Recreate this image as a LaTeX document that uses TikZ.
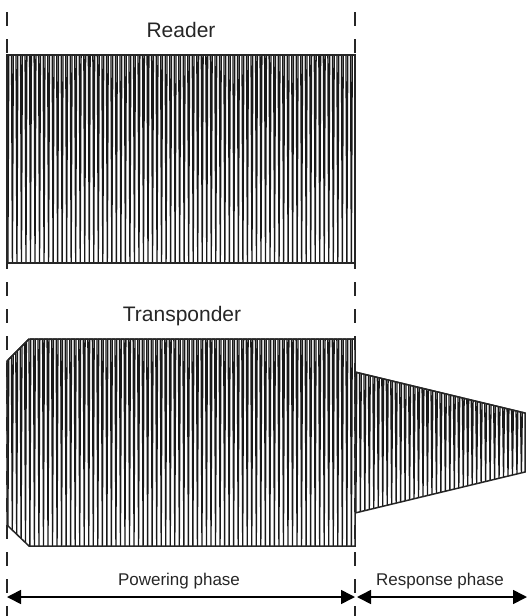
\documentclass[tikz,border=0pt]{standalone}
\usepackage{fontspec}
\setmainfont{Liberation Sans}
\usetikzlibrary{arrows.meta}

% carrier drawn as narrow spikes between a top and a bottom envelope line
% #1,#2 = x range, #3,#4 = top at start/end, #5,#6 = bottom at start/end
\newcommand{\carrier}[6]{%
  \pgfmathtruncatemacro{\nper}{round((#2-#1)/4.5)}%
  \pgfmathtruncatemacro{\nlast}{\nper-1}%
  \pgfmathsetmacro{\dx}{(#2-#1)/\nper}%
  \pgfmathsetmacro{\dtop}{(#4-#3)/\nper}%
  \pgfmathsetmacro{\dbot}{(#6-#5)/\nper}%
  \draw[wave] (#1,#3) \foreach \k in {0,...,\nlast}{
    -- ({#1+\dx*\k+0.9}, {#5+\dbot*(\k+0.2)})
    -- ({#1+\dx*\k+1.8}, {#3+\dtop*(\k+0.4)})
    -- ({#1+\dx*(\k+1)}, {#3+\dtop*(\k+1)})
  };
}

\begin{document}
\begin{tikzpicture}[x=1pt,y=-1pt,inner sep=0pt]
\tikzstyle{wave}=[line width=1.3pt, line join=miter, black!90]
\tikzstyle{hull}=[line width=1.5pt, black!85]
\tikzstyle{phase}=[dash pattern=on 13.5pt off 13.5pt, line width=1.8pt, black!85]
\tikzstyle{span}=[{Triangle[length=14pt,width=14pt]}-{Triangle[length=14pt,width=14pt]}, line width=1.6pt]
\tikzstyle{headtext}=[font=\fontsize{21}{21}\selectfont, anchor=base, text=black!85]
\tikzstyle{phasetext}=[font=\fontsize{17}{17}\selectfont, anchor=base, text=black!85]
\useasboundingbox (0,0) rectangle (527,616);
% phase borders
\coordinate (startTop) at (7,12);
\coordinate (startBot) at (7,616);
\coordinate (switchTop) at (355,12);
\coordinate (switchBot) at (355,616);
\draw[phase] (startTop) -- (startBot);
\draw[phase] (switchTop) -- (switchBot);
% reader signal
\node[headtext] (reader) at (181,37) {Reader};
\carrier{7}{355}{55}{55}{263}{263}
\draw[hull] (7,55) rectangle (355,263);
% transponder signal
\node[headtext] (transponder) at (182,321) {Transponder};
\carrier{7}{29}{361}{339}{525}{546}
\carrier{29}{355}{339}{339}{546}{546}
\carrier{355}{525}{372}{413}{513}{472}
\draw[hull] (7,361) -- (29,339) -- (355,339) -- (355,546) -- (29,546) -- (7,525) -- cycle;
\draw[hull] (355,372) -- (525,413) -- (525,472) -- (355,513);
% phases
\coordinate (powL) at (7,597);
\coordinate (powR) at (355,597);
\coordinate (resL) at (357,597);
\coordinate (resR) at (527,597);
\draw[span] (powL) -- (powR);
\draw[span] (resL) -- (resR);
\node[phasetext] (powering) at (179,585) {Powering phase};
\node[phasetext] (response) at (440,585) {Response phase};
\end{tikzpicture}
\end{document}
